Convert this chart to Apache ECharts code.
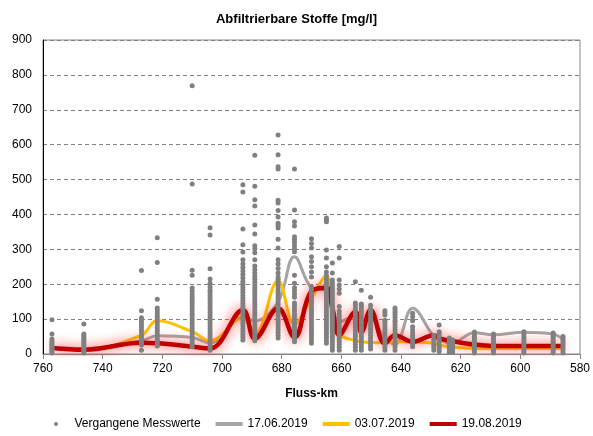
<!DOCTYPE html>
<html>
<head>
<meta charset="utf-8">
<script src="https://cdn.jsdelivr.net/npm/echarts@6/dist/echarts.min.js"></script>
<style>
  html, body { margin: 0; padding: 0; background: #fff; }
  #chart { width: 593px; height: 436px; }
</style>
</head>
<body>
<div id="chart"></div>
<script>
// Messstellen (Fluss-km) und vergangene Messwerte je Messstelle
const stationKm = [757, 746.3, 727, 721.7, 710, 704, 693, 689, 681.2, 675.7, 670, 665, 663, 660.7,
  655.3, 653.3, 650.2, 645.4, 642, 636.1, 629, 627.2, 623.8, 622.7, 615.4, 609, 598.8, 589, 585.7];
const pastValues = [
  [3, 8, 12, 16, 20, 24, 28, 33, 38, 43, 57, 98],
  [3, 8, 13, 18, 23, 28, 33, 38, 43, 48, 53, 57, 86],
  [11, 26, 32, 38, 45, 52, 60, 68, 76, 84, 92, 98, 104, 124, 239],
  [23, 30, 37, 44, 52, 60, 68, 76, 84, 92, 100, 108, 116, 124, 132, 157, 262, 333],
  [21, 28, 35, 42, 50, 58, 66, 74, 82, 90, 98, 106, 114, 122, 130, 138, 146, 154, 162, 170, 180, 189, 226, 240, 487, 769],
  [11, 18, 25, 32, 40, 48, 56, 64, 72, 80, 88, 96, 104, 112, 120, 128, 136, 144, 152, 160, 168, 176, 183, 192, 203, 215, 244, 341, 362],
  [40, 48, 56, 64, 72, 80, 88, 96, 104, 112, 120, 128, 136, 144, 152, 160, 168, 176, 184, 192, 200, 208, 218, 228, 238, 248, 258, 270, 292, 313, 358, 464, 485],
  [38, 46, 54, 62, 70, 78, 86, 94, 102, 110, 118, 126, 134, 142, 150, 158, 166, 174, 182, 190, 198, 206, 214, 222, 232, 242, 252, 270, 290, 302, 310, 344, 370, 424, 442, 481, 570],
  [46, 54, 62, 70, 78, 86, 94, 102, 110, 118, 126, 134, 142, 150, 158, 166, 174, 182, 190, 198, 206, 214, 221, 232, 245, 258, 270, 304, 329, 361, 368, 375, 393, 411, 433, 441, 530, 537, 571, 628],
  [35, 43, 51, 59, 67, 75, 83, 91, 99, 107, 115, 123, 131, 139, 146, 163, 172, 181, 190, 203, 226, 293, 302, 311, 320, 328, 336, 367, 379, 413, 530],
  [31, 39, 47, 55, 63, 71, 79, 87, 95, 103, 111, 119, 127, 135, 143, 151, 159, 167, 175, 184, 193, 221, 235, 250, 265, 279, 304, 317, 330],
  [31, 39, 47, 55, 63, 71, 79, 87, 95, 103, 111, 119, 127, 135, 143, 151, 159, 167, 175, 183, 191, 199, 207, 215, 225, 235, 250, 275, 298, 379, 385, 390],
  [11, 19, 27, 35, 43, 51, 59, 67, 75, 83, 91, 99, 107, 115, 123, 131, 139, 147, 155, 163, 171, 179, 187, 195, 203, 212, 232, 261],
  [11, 19, 27, 35, 43, 51, 59, 67, 75, 83, 91, 99, 107, 115, 123, 136, 174, 186, 198, 212, 275, 308],
  [11, 19, 27, 35, 43, 51, 59, 67, 75, 83, 91, 99, 107, 115, 123, 131, 140, 146, 207],
  [11, 19, 27, 35, 43, 51, 59, 67, 75, 83, 91, 99, 107, 115, 123, 132, 138, 143, 183],
  [14, 22, 30, 38, 46, 54, 62, 70, 78, 86, 94, 102, 110, 118, 125, 130, 140, 163],
  [11, 19, 27, 35, 43, 51, 59, 67, 75, 83, 91, 97, 112, 118, 124],
  [11, 19, 27, 35, 43, 51, 59, 67, 75, 83, 91, 97, 105, 113, 120, 126, 132],
  [21, 29, 37, 45, 53, 61, 69, 78, 95, 107, 117],
  [11, 18, 25, 32, 39, 46, 54],
  [7, 14, 21, 28, 35, 42, 50, 57, 64, 83],
  [4, 10, 16, 22, 28, 34, 40, 46],
  [4, 10, 16, 22, 28, 34, 40],
  [3, 9, 15, 21, 27, 33, 39, 45, 51, 57, 63],
  [3, 9, 15, 21, 27, 33, 39, 45, 51, 57],
  [3, 9, 15, 21, 27, 33, 39, 45, 51, 57, 64],
  [3, 9, 15, 21, 27, 33, 39, 45, 51, 57, 60],
  [3, 9, 15, 21, 27, 33, 39, 45, 50]
];

// Messkampagnen
const lineKm = [757, 746.3, 727, 721.7, 710, 704, 693, 689, 681.2, 675.7, 670, 665, 663, 660.7,
  655.3, 653.3, 650.2, 645.4, 642, 636.1, 629, 627.2, 623.3, 615.4, 609, 598.8, 589, 585.7];
const gray17 = [18, 16, 38, 52, 47, 32, 105, 95, 150, 279, 190, 180, 140, 92,
  108, 95, 100, 45, 28, 131, 50, 42, 30, 61, 55, 62, 57, 42];
const yellow03 = [17, 12, 54, 95, 64, 38, 103, 55, 210, 85, 160, 224, 130, 58,
  38, 35, 33, 32, 35, 35, 30, 25, 20, 16, 16, 16, 16, 16];
const red19 = [17, 12, 32, 31, 21, 16, 126, 44, 131, 48, 180, 190, 130, 55,
  121, 62, 126, 30, 54, 35, 54, 45, 38, 27, 23, 23, 23, 23];

const xTicks = [760, 580, 20];   // max, min, interval
const yTicks = [0, 900, 100];

const pastPoints = [];
stationKm.forEach((km, i) => {
  pastValues[i].forEach(v => pastPoints.push([km, v]));
});
const pairs = arr => lineKm.map((km, i) => [km, arr[i]]);

const font = '"Liberation Sans", Arial, sans-serif';
let myChart = echarts.init(document.getElementById('chart'));
myChart.setOption({
  animation: false,
  title: {
    text: 'Abfiltrierbare Stoffe [mg/l]',
    left: 'center',
    top: 8,
    textStyle: { fontFamily: font, fontSize: 13, fontWeight: 'bold', color: '#000' }
  },
  grid: {
    left: 43, right: 10, top: 40, bottom: 82,
    show: true, borderColor: '#868686', borderWidth: 1
  },
  legend: {
    bottom: 1,
    left: 49,
    itemWidth: 27,
    itemHeight: 4,
    itemGap: 15,
    textStyle: { fontFamily: font, fontSize: 12, color: '#000' },
    data: [
      { name: 'Vergangene Messwerte', icon: 'circle' },
      { name: '17.06.2019', icon: 'rect' },
      { name: '03.07.2019', icon: 'rect' },
      { name: '19.08.2019', icon: 'rect' }
    ]
  },
  xAxis: {
    type: 'value',
    inverse: true,
    max: xTicks[0],
    min: xTicks[1],
    interval: xTicks[2],
    name: 'Fluss-km',
    nameLocation: 'middle',
    nameGap: 34,
    nameTextStyle: { fontFamily: font, fontSize: 12, fontWeight: 'bold', color: '#000' },
    axisLine: { lineStyle: { color: '#868686' } },
    axisTick: { show: true, length: 5, lineStyle: { color: '#868686' } },
    axisLabel: { fontFamily: font, fontSize: 12, color: '#000', margin: 9 },
    splitLine: { show: false }
  },
  yAxis: {
    type: 'value',
    min: yTicks[0],
    max: yTicks[1],
    interval: yTicks[2],
    axisLine: { show: true, lineStyle: { color: '#000' } },
    axisTick: { show: false },
    axisLabel: { fontFamily: font, fontSize: 12, color: '#000', margin: 11 },
    splitLine: { lineStyle: { color: '#808080', type: [4, 3] } }
  },
  series: [
    {
      name: '17.06.2019',
      type: 'line',
      data: pairs(gray17),
      smooth: 0.4,
      symbol: 'none',
      z: 2,
      lineStyle: { color: '#a5a5a5', width: 3 },
      itemStyle: { color: '#a5a5a5' }
    },
    {
      name: '03.07.2019',
      type: 'line',
      data: pairs(yellow03),
      smooth: 0.4,
      symbol: 'none',
      z: 3,
      lineStyle: { color: '#ffc000', width: 3 },
      itemStyle: { color: '#ffc000' }
    },
    {
      name: '19.08.2019',
      type: 'line',
      data: pairs(red19),
      smooth: 0.4,
      symbol: 'none',
      z: 4,
      lineStyle: {
        color: '#c00000', width: 4.5,
        shadowColor: 'rgba(255, 40, 40, 0.95)', shadowBlur: 12
      },
      itemStyle: { color: '#c00000' }
    },
    {
      name: 'Vergangene Messwerte',
      type: 'scatter',
      data: pastPoints,
      symbolSize: 5,
      z: 5,
      itemStyle: { color: '#808080', opacity: 1 }
    }
  ]
});
</script>
</body>
</html>
